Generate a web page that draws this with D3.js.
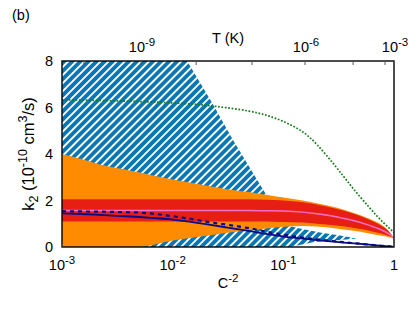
<!DOCTYPE html>
<html>
<head>
<meta charset="utf-8">
<script src="https://cdn.jsdelivr.net/npm/d3@7"></script>
<style>
  body { margin: 0; background: #fff; }
  text { font-family: "Liberation Sans", Arial, sans-serif; fill: #000; }
</style>
</head>
<body>
<div id="chart"></div>
<script>
// sample positions along C^-2
const c2 = [0.001, 0.0015, 0.0022, 0.0035, 0.005, 0.007, 0.01, 0.015, 0.02, 0.03, 0.05, 0.07,
            0.1, 0.15, 0.2, 0.3, 0.4, 0.5, 0.6, 0.7, 0.8, 0.9, 1.0]

const orangeHi = [4.0, 3.78, 3.55, 3.35, 3.2, 3.05, 2.9, 2.75, 2.65, 2.5, 2.35, 2.25,
                  2.13, 2.0, 1.88, 1.7, 1.52, 1.37, 1.22, 1.07, 0.9, 0.68, 0.38]
const orangeLo = [0, 0, 0, 0, 0, 0.12, 0.28, 0.4, 0.48, 0.6, 0.72, 0.8,
                  0.87, 0.9, 0.88, 0.8, 0.72, 0.66, 0.58, 0.52, 0.47, 0.42, 0.38]
const redHi = [2.05, 2.05, 2.05, 2.05, 2.05, 2.05, 2.05, 2.05, 2.05, 2.05, 2.05, 2.03,
               2.0, 1.92, 1.83, 1.65, 1.48, 1.32, 1.17, 1.02, 0.86, 0.66, 0.38]
const redLo = [1.1, 1.1, 1.1, 1.1, 1.1, 1.1, 1.1, 1.1, 1.1, 1.1, 1.1, 1.1,
               1.08, 1.05, 1.0, 0.93, 0.85, 0.77, 0.7, 0.62, 0.55, 0.47, 0.38]
const pinkLine = [1.57, 1.57, 1.57, 1.57, 1.57, 1.57, 1.57, 1.57, 1.57, 1.57, 1.57, 1.56,
                  1.55, 1.5, 1.43, 1.3, 1.17, 1.05, 0.93, 0.82, 0.7, 0.56, 0.38]
const navySolid = [1.45, 1.42, 1.38, 1.33, 1.29, 1.24, 1.18, 1.07, 0.98, 0.85, 0.68, 0.56,
                   0.45, 0.36, 0.3, 0.22, 0.17, 0.13, 0.1, 0.07, 0.05, 0.025, 0]
const navyDashed = [1.54, 1.53, 1.52, 1.5, 1.48, 1.42, 1.32, 1.2, 1.09, 0.97, 0.8, 0.66,
                    0.53, 0.41, 0.33, 0.24, 0.18, 0.14, 0.1, 0.07, 0.05, 0.025, 0]
const greenDotted = [6.33, 6.32, 6.3, 6.28, 6.26, 6.23, 6.2, 6.15, 6.1, 6.0, 5.85, 5.68,
                     5.42, 5.0, 4.45, 3.45, 2.68, 2.12, 1.7, 1.33, 1.05, 0.82, 0.62]

// hatched (excluded) region: upper and lower boundary
const hatchUpC = [0.001, 0.0135, 0.0227, 0.0351, 0.0655, 0.1035, 0.1414, 0.2143, 0.325, 0.463]
const hatchUpK = [8, 8, 6.2, 4.6, 2.47, 0.95, 0.8, 0.62, 0.5, 0.37]
const hatchLoC = [0.001, 0.115, 0.185, 0.325, 0.463]
const hatchLoK = [0, 0, 0.2, 0.3, 0.37]

// axes
const xTicks = [-3, -2, -1, 0]
const yTicks = [0, 2, 4, 6, 8]
const tTickExp = [-10, -9, -8, -7, -6, -5, -4, -3]
const tTickC2 = [0.00158, 0.00518, 0.0163, 0.0521, 0.157, 0.427, 0.83, 1.0]
const tLabelExp = [-9, -6, -3]

const W = 415, H = 310
const MARGIN = { top: 61, right: 21, bottom: 63, left: 62 },
    WIDTH = W - MARGIN.left - MARGIN.right,
    HEIGHT = H - MARGIN.top - MARGIN.bottom
const FS = "14.5px", SUP = "11.5px"

const svgRoot = d3.select("#chart").append("svg")
    .attr("width", W)
    .attr("height", H)

const defs = svgRoot.append("defs")
const pat = defs.append("pattern")
    .attr("id", "hatch")
    .attr("patternUnits", "userSpaceOnUse")
    .attr("width", 5.7)
    .attr("height", 10)
    .attr("patternTransform", "rotate(45)")
pat.append("rect").attr("width", 5.7).attr("height", 10).attr("fill", "#fff")
pat.append("rect").attr("width", 3.8).attr("height", 10).attr("fill", "#0877b3")

defs.append("clipPath").attr("id", "clip")
    .append("rect").attr("width", WIDTH).attr("height", HEIGHT)

const svg = svgRoot.append("g")
    .attr("transform", "translate(" + MARGIN.left + "," + MARGIN.top + ")")

const x = d3.scaleLog().domain([1e-3, 1]).range([0, WIDTH])
const y = d3.scaleLinear().domain([0, 8]).range([HEIGHT, 0])

const plot = svg.append("g").attr("clip-path", "url(#clip)")

// hatched region
const hatchPts = hatchUpC.map((c, i) => [x(c), y(hatchUpK[i])])
    .concat(hatchLoC.map((c, i) => [x(c), y(hatchLoK[i])]).reverse())
plot.append("path")
    .attr("d", "M" + hatchPts.map(p => p.join(",")).join("L") + "Z")
    .attr("fill", "url(#hatch)")

function band(hi, lo, color) {
    const area = d3.area()
        .x((d, i) => x(c2[i]))
        .y0((d, i) => y(lo[i]))
        .y1((d, i) => y(hi[i]))
        .curve(d3.curveMonotoneX)
    plot.append("path").datum(hi).attr("d", area).attr("fill", color)
}
band(orangeHi, orangeLo, "#ff8c00")
band(redHi, redLo, "#e61e14")

function line(vals, color, width, dash, curve) {
    const gen = d3.line()
        .x((d, i) => x(c2[i]))
        .y(d => y(d))
        .curve(curve || d3.curveMonotoneX)
    const p = plot.append("path").datum(vals).attr("d", gen)
        .attr("fill", "none").attr("stroke", color).attr("stroke-width", width)
    if (dash) p.attr("stroke-dasharray", dash)
}
line(pinkLine, "#ff6ec7", 1.5)
line(navySolid, "#0a0a85", 1.8)
line(navyDashed, "#0a0a85", 2.2, "4,4")
line(greenDotted, "#167a16", 1.7, "1.7,1.7", d3.curveBasis)

// frame and ticks
svg.append("rect").attr("width", WIDTH).attr("height", HEIGHT)
    .attr("fill", "none").attr("stroke", "#000").attr("stroke-width", 1.4)

const TL = 4
xTicks.forEach(e => {
    svg.append("line").attr("x1", x(Math.pow(10, e))).attr("x2", x(Math.pow(10, e)))
        .attr("y1", HEIGHT).attr("y2", HEIGHT - TL).attr("stroke", "#555")
})
tTickC2.forEach(c => {
    svg.append("line").attr("x1", x(c)).attr("x2", x(c))
        .attr("y1", 0).attr("y2", TL).attr("stroke", "#555")
})

// tick labels
function powLabel(g, xp, yp, base, exp) {
    const t = g.append("text").attr("x", xp).attr("y", yp)
        .attr("text-anchor", "middle").style("font-size", FS)
    t.append("tspan").text(base)
    if (exp !== null) t.append("tspan").attr("dy", -6).style("font-size", SUP).text(exp)
    return t
}
xTicks.forEach(e => {
    if (e === 0) {
        svg.append("text").attr("x", x(1)).attr("y", HEIGHT + 23)
            .attr("text-anchor", "middle").style("font-size", FS).text("1")
    } else {
        powLabel(svg, x(Math.pow(10, e)), HEIGHT + 23, "10", String(e))
    }
})
yTicks.forEach(v => {
    svg.append("text").attr("x", -9).attr("y", y(v) + 5)
        .attr("text-anchor", "end").style("font-size", FS).text(v)
})
tLabelExp.forEach(e => {
    const c = tTickC2[tTickExp.indexOf(e)]
    powLabel(svg, x(c) + 1, -9, "10", String(e))
})

// axis titles
const xt = svg.append("text").attr("x", 166).attr("y", HEIGHT + 41)
    .attr("text-anchor", "middle").style("font-size", FS)
xt.append("tspan").text("C")
xt.append("tspan").attr("dy", -6).style("font-size", SUP).text("-2")

svg.append("text").attr("x", 166).attr("y", -18)
    .attr("text-anchor", "middle").style("font-size", FS).text("T (K)")

const yt = svg.append("text")
    .attr("transform", "translate(-28," + (HEIGHT / 2) + ") rotate(-90)")
    .attr("text-anchor", "middle").style("font-size", "16.5px")
yt.append("tspan").text("k")
yt.append("tspan").attr("dy", 4).style("font-size", "12.5px").text("2")
yt.append("tspan").attr("dy", -4).text(" (10")
yt.append("tspan").attr("dy", -7).style("font-size", "12.5px").text("-10")
yt.append("tspan").attr("dy", 7).text(" cm")
yt.append("tspan").attr("dy", -7).style("font-size", "12.5px").text("3")
yt.append("tspan").attr("dy", 7).text("/s)")

svgRoot.append("text").attr("x", 12).attr("y", 20).style("font-size", FS).text("(b)")
</script>
</body>
</html>
